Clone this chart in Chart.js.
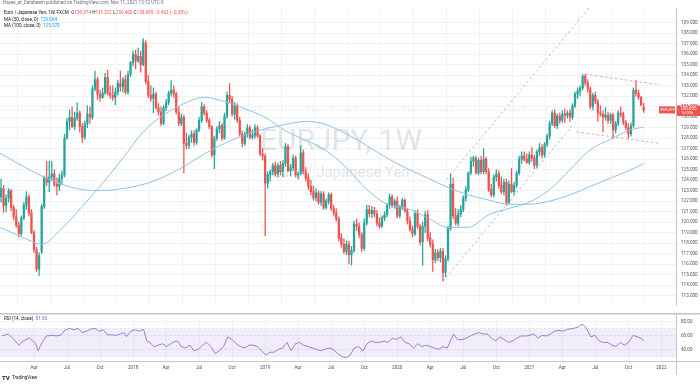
<!DOCTYPE html>
<html>
<head>
<meta charset="utf-8">
<title>EURJPY 1W</title>
<script src="https://cdn.jsdelivr.net/npm/chart.js@4.4.0/dist/chart.umd.min.js"></script>
<style>
  html, body { margin: 0; padding: 0; background: #ffffff; }
  .pane { position: absolute; left: 0; width: 700px; }
  #pricePane { top: 0; height: 313px; }
  #rsiPane { top: 313px; height: 71px; }
</style>
</head>
<body>
<div class="pane" id="pricePane"><canvas id="priceChart"></canvas></div>
<div class="pane" id="rsiPane"><canvas id="rsiChart"></canvas></div>
<script>
// weekly candles, index 0 = week of 2 Jan 2017, last = week of 8 Nov 2021
const open = [
  122.4,123.2,121.6,122.3,123.0,121.4,120.5,119.7,118.9,120.4,
  121.6,122.4,120.9,119.0,117.4,115.5,117.2,121.5,124.2,123.8,
  124.3,124.6,123.6,123.4,124.2,124.5,128.0,129.6,130.0,129.1,
  129.9,130.4,129.1,128.1,129.4,130.3,130.0,132.7,133.6,132.2,
  131.9,132.3,133.8,132.3,132.1,131.9,132.4,133.2,132.9,133.6,
  132.4,134.1,135.2,136.0,135.4,135.8,135.0,137.1,133.4,132.1,
  131.8,132.2,130.9,130.5,129.4,130.9,131.4,132.3,132.6,132.2,
  130.5,129.4,130.0,127.5,127.3,128.1,128.4,127.6,128.8,129.7,
  131.0,130.4,129.7,129.1,126.4,128.0,128.9,129.2,128.0,130.1,
  132.1,131.7,130.3,131.1,129.7,128.4,127.5,128.4,129.0,128.1,
  128.3,129.0,128.2,126.5,126.3,123.7,124.5,124.8,125.4,124.6,
  125.4,124.8,125.6,127.2,124.9,125.2,126.1,124.5,124.6,126.6,
  124.8,124.2,123.4,122.9,122.3,122.8,121.9,122.7,121.4,122.0,
  122.6,121.3,120.9,120.3,118.5,117.9,117.2,117.9,116.9,117.3,
  119.8,119.6,118.8,117.5,119.9,121.2,120.8,121.1,120.8,119.9,
  119.6,120.4,120.7,121.6,122.4,121.6,122.0,120.6,121.4,122.1,
  121.1,120.1,119.3,118.9,120.8,119.6,118.1,119.6,120.7,118.5,
  117.9,116.4,117.1,116.6,117.2,115.2,116.5,119.4,123.6,120.6,
  119.9,120.8,121.2,122.3,123.1,124.7,125.8,126.1,124.7,125.9,
  124.8,126.0,124.8,123.1,122.6,124.3,124.6,123.5,122.9,123.8,
  121.9,123.6,122.9,123.5,124.7,126.0,126.3,126.0,125.7,126.4,
  126.1,125.4,126.7,127.1,126.4,127.4,128.2,129.4,130.4,129.2,
  130.1,129.7,130.3,130.2,130.4,130.0,131.1,132.2,132.5,132.8,
  133.9,133.3,132.7,131.0,132.1,131.5,130.4,130.3,130.0,130.2,
  129.7,130.2,128.8,129.4,130.4,130.3,129.5,129.0,128.4,129.2,
  132.6,132.3,131.9,130.974
];
const high = [
  124.1,123.5,122.6,123.2,123.1,121.6,121.2,120.0,120.6,121.9,
  122.9,122.6,121.2,119.2,117.6,117.1,121.7,124.4,125.8,125.8,
  125.8,125.0,124.2,124.6,124.9,128.4,129.9,130.7,131.0,130.5,
  131.4,130.6,129.4,129.6,131.1,131.0,133.0,134.4,133.8,132.6,
  132.8,134.2,134.5,133.0,133.0,132.8,133.5,134.4,133.8,134.0,
  134.4,135.3,136.3,136.4,136.6,136.3,137.5,137.3,134.0,133.0,
  132.8,132.4,131.3,131.0,131.1,131.7,132.5,133.5,133.0,132.4,
  131.0,130.3,130.2,128.5,128.3,128.7,128.7,128.9,130.0,131.4,
  131.2,130.6,129.9,129.2,128.2,129.1,129.6,129.4,130.4,132.4,
  133.2,132.0,131.4,131.3,130.0,128.7,128.6,129.3,129.2,128.8,
  129.3,129.2,128.4,127.0,126.5,124.8,125.0,125.6,125.7,125.6,
  125.8,125.9,127.5,127.4,125.5,126.4,126.3,124.8,127.3,126.9,
  125.2,124.6,124.0,123.4,123.2,123.0,122.9,122.9,122.2,122.8,
  122.8,121.6,121.3,120.5,118.9,118.4,118.2,118.2,117.7,120.1,
  120.3,119.9,119.0,120.3,121.6,121.6,121.5,121.4,121.1,120.4,
  120.6,121.0,121.8,122.7,122.6,122.2,122.4,121.6,122.3,122.2,
  121.3,120.5,119.6,121.1,121.2,119.8,120.0,121.0,121.1,119.0,
  118.3,117.4,117.4,117.5,117.5,116.8,119.6,124.6,124.2,121.3,
  121.2,121.6,122.5,123.4,124.8,126.2,126.3,126.3,126.1,126.3,
  127.0,126.2,125.1,123.6,124.5,125.0,124.9,124.3,124.1,124.1,
  123.9,125.1,123.8,124.9,126.3,126.7,126.7,126.5,126.7,127.1,
  126.4,126.9,127.5,127.4,127.6,128.4,129.6,130.6,130.7,130.3,
  130.4,130.6,130.8,130.6,130.7,131.3,132.4,132.8,133.0,134.1,
  134.1,133.6,132.9,132.3,132.4,131.7,131.1,130.6,130.9,130.5,
  130.4,130.4,129.6,130.6,131.0,130.5,129.7,129.4,129.5,132.8,
  133.5,132.6,132.0,131.321
];
const low = [
  121.9,120.9,121.0,121.9,121.1,120.2,119.5,118.6,118.7,120.2,
  121.2,120.6,118.9,117.1,115.3,114.9,117.0,121.3,123.5,122.9,
  124.0,123.4,122.6,123.0,123.6,124.3,127.9,128.8,129.0,128.8,
  129.7,128.6,127.6,127.9,129.0,129.4,129.8,132.5,131.7,131.5,
  131.8,132.2,132.1,131.8,131.6,131.2,132.1,132.5,132.4,132.2,
  132.2,133.9,134.9,134.6,135.2,134.3,134.9,133.2,131.9,131.5,
  130.4,130.8,130.2,129.2,129.3,130.6,131.2,132.0,131.9,130.3,
  129.2,129.2,124.7,127.0,127.0,127.6,127.3,127.4,128.6,129.5,
  130.2,129.5,128.9,126.2,125.1,127.8,128.5,127.8,127.9,129.9,
  131.4,130.1,129.8,129.5,128.2,127.2,127.3,128.1,127.9,127.9,
  128.0,128.1,126.3,125.9,118.7,123.2,123.9,124.5,124.4,124.3,
  124.5,124.3,125.3,124.8,124.4,124.9,124.3,124.1,124.5,124.6,
  123.9,123.1,122.6,122.1,122.0,121.7,121.6,121.2,121.2,121.7,
  121.1,120.6,120.1,118.2,117.6,117.0,116.9,116.0,115.9,117.1,
  119.2,118.5,117.2,117.3,119.7,120.5,120.4,120.5,119.6,119.4,
  119.5,120.1,120.5,121.3,121.4,121.3,120.4,120.4,121.2,120.9,
  119.8,119.1,118.6,118.7,119.4,117.8,115.9,119.0,118.2,117.6,
  115.3,116.1,116.3,116.2,114.4,114.8,116.3,119.2,120.3,119.7,
  119.6,120.5,121.0,122.0,122.9,124.5,125.3,124.6,124.5,124.6,
  124.6,124.6,122.9,122.4,122.4,123.9,123.2,122.7,122.6,121.6,
  121.7,122.8,122.6,123.3,124.5,125.6,125.8,125.6,125.5,125.8,
  125.1,125.2,126.3,126.1,126.2,127.2,127.9,129.2,129.0,128.9,
  129.4,129.5,129.5,129.9,129.6,129.8,130.9,131.8,132.0,132.6,
  133.0,132.4,130.8,130.7,131.3,129.6,130.1,128.6,129.7,129.4,
  129.4,128.0,128.5,129.2,130.0,129.3,128.8,128.0,128.2,129.0,
  132.0,131.7,131.1,130.46
];
const close = [
  123.2,121.6,122.3,123.0,121.4,120.5,119.7,118.9,120.4,121.6,
  122.4,120.9,119.0,117.4,115.5,116.8,121.5,124.2,123.8,124.3,
  124.6,123.6,123.4,124.2,124.5,128.0,129.6,130.0,129.1,129.9,
  130.4,129.1,128.1,129.4,130.3,130.0,132.7,133.6,132.2,131.9,
  132.3,133.8,132.3,132.1,131.9,132.4,133.2,132.9,133.6,132.4,
  134.1,135.2,136.0,135.4,135.8,135.0,137.1,133.4,132.1,131.8,
  132.2,130.9,130.5,129.4,130.9,131.4,132.3,132.6,132.2,130.5,
  129.4,130.0,127.5,127.3,128.1,128.4,127.6,128.8,129.7,131.0,
  130.4,129.7,129.1,126.4,128.0,128.9,129.2,128.0,130.1,132.1,
  131.7,130.3,131.1,129.7,128.4,127.5,128.4,129.0,128.1,128.3,
  129.0,128.2,126.5,126.3,123.7,124.5,124.8,125.4,124.6,125.4,
  124.8,125.6,127.2,124.9,125.2,126.1,124.5,124.6,126.6,124.8,
  124.2,123.4,122.9,122.3,122.8,121.9,122.7,121.4,122.0,122.6,
  121.3,120.9,120.3,118.5,117.9,117.2,117.9,116.9,117.3,119.8,
  119.6,118.8,117.5,119.9,121.2,120.8,121.1,120.8,119.9,119.6,
  120.4,120.7,121.6,122.4,121.6,122.0,120.6,121.4,122.1,121.1,
  120.1,119.3,118.9,120.8,119.6,118.1,119.6,120.7,118.5,117.9,
  116.4,117.1,116.6,117.2,115.2,116.5,119.4,123.6,120.6,119.9,
  120.8,121.2,122.3,123.1,124.7,125.8,126.1,124.7,125.9,124.8,
  126.0,124.8,123.1,122.6,124.3,124.6,123.5,122.9,123.8,121.9,
  123.6,122.9,123.5,124.7,126.0,126.3,126.0,125.7,126.4,126.1,
  125.4,126.7,127.1,126.4,127.4,128.2,129.4,130.4,129.2,130.1,
  129.7,130.3,130.2,130.4,130.0,131.1,132.2,132.5,132.8,133.9,
  133.3,132.7,131.0,132.1,131.5,130.4,130.3,130.0,130.2,129.7,
  130.2,128.8,129.4,130.4,130.3,129.5,129.0,128.4,129.2,132.6,
  132.3,131.9,131.158,130.695
];

// moving averages (week index -> value)
const maWeek = [-0.5,8,16,24,32,40,48,56,64,72,80,88,96,104,112,120,128,136,144,152,160,168,176,184,192,200,208,216,224,232,240,248,253];
const ma50 = [119.5,118.6,117.9,119.4,121.5,123.7,126.1,128.6,130.2,131.3,131.9,131.5,130.8,130.0,128.7,127.8,126.8,125.2,123.1,121.7,121.3,120.4,119.5,119.5,120.7,121.3,121.9,123.1,125.0,126.9,127.9,128.8,129.064];
const ma100 = [126.6,125.4,124.4,123.6,123.1,123.0,123.2,123.6,124.3,125.3,126.5,127.5,128.3,128.9,129.3,129.6,129.3,128.4,127.3,126.1,125.1,124.2,123.3,122.6,122.1,121.7,121.7,122.0,122.6,123.4,124.2,125.0,125.570];

// RSI (14)
const rsiWeek = [0.4,2.9,4.6,7.1,8.7,11.2,13.7,14.6,16.2,17.9,
  20.4,22,23.7,25.3,27,28.7,30.3,32,33.7,35.3,
  37,38.6,40.3,42,43.6,45.3,47,48.6,49.4,51.1,
  52.8,54.4,56.1,57.4,58.6,60.2,61.9,63.6,65.2,67.7,
  69.4,71,72.7,74.4,76,77.7,79.3,81,82.7,84.3,
  86,87.6,89.3,91,92.6,94.3,96,97.6,99.3,100.9,
  102.6,104.3,105.9,107.6,109.2,110.9,112.6,114.2,115.9,117.5,
  119.2,120.9,122.5,124.2,125.9,127.5,129.2,130.8,132.5,134.2,
  135.8,137.5,139.1,140.8,142.5,144.1,145.8,147.4,149.1,150.8,
  152.4,154.1,155.7,157.4,159.1,160.7,162.4,164.1,165.7,167.4,
  169,170.7,172.4,174,175.7,178.2,179.8,181.5,183.2,184.8,
  186.5,188.1,189.8,191.5,193.1,194.8,196.4,198.1,199.8,201.4,
  203.1,204.8,207.2,209.7,211.4,213,214.7,216.4,218,219.7,
  221.4,223,225.5,227.2,228.8,230.2,232.2,233.8,235.5,237.1,
  238.8,240.5,242.1,243.8,245.4,247.1,248.8,250.4,252.1,253];
const rsiValue = [59.2,62,56,46,52,56,48,38,50,59.2,
  60,59.2,60.8,68,70,68,70,64,66,68.8,
  70,66,68,60.8,60.8,60,62,64,58,66,
  68,66,68.8,52,50,44,46,48,44,50,
  52,44,42,46,38,40,46,50,44,34,
  38,44,58,54,48,44,42,46,46,44,
  38,32,36,36,40,42,50,38,48,50,
  46,44,42,40,38,40,42,40,34,30,
  28,32,42,44,38,48,52,50,50,52,
  50,56,54,58,50,48,42,48,44,46,
  44,42,40,44,42,62,54,54,56,59.2,
  62,64,62,62,56,52,58,54,50,52,
  56,59.2,59.2,62,56,60,59.2,62,66,67.2,
  66,68.8,70,72,76,72,58,60,52,50,
  50,46,44,50,46,50,60,58,56,51.93];
const rsiBands = [70, 30];
const rsiTicks = [40, 60, 80];

// drawn trend lines (week index, price)
const channelUpperX = [175.5, 240];   const channelUpperY = [124.1, 142.9];
const channelLowerX = [174, 226];     const channelLowerY = [114.35, 129.5];
const flagUpperX = [230, 259.5];      const flagUpperY = [134.1, 133.1];
const flagLowerX = [226.6, 259.5];    const flagLowerY = [128.6, 127.5];

// time axis
const tickWeek = [13,26,39,52,65,78,91,104,117,130,143,156,169,182,195,208,221,234,247,260];
const tickText = ['Apr','Jul','Oct','2018','Apr','Jul','Oct','2019','Apr','Jul','Oct','2020','Apr','Jul','Oct','2021','Apr','Jul','Oct','2022'];

const UP = '#26a69a';
const DOWN = '#ef5350';
const MA_COLOR = '#8fc1e8';
const GRID = '#f0f2f6';
const TEXT = '#50535e';
const SEP = '#c5c7cd';
const X_MIN = -0.39, X_MAX = 265.75;
const FONT = 'Roboto, "Liberation Sans", sans-serif';

Chart.defaults.font.family = FONT;
Chart.defaults.animation = false;

const last = close.length - 1;
const idx = close.map((_, i) => i);
const pts = (xs, ys) => xs.map((x, i) => ({ x: x, y: ys[i] }));
const candleColor = c => close[c.dataIndex] >= open[c.dataIndex] ? UP : DOWN;

function runs(ctx, x, y, parts) {
  parts.forEach(([t, c]) => { ctx.fillStyle = c; ctx.fillText(t, x, y); x += ctx.measureText(t).width; });
}

const priceDecor = {
  id: 'priceDecor',
  beforeDatasetsDraw(chart) {
    const { ctx, chartArea: a } = chart;
    const cx = (a.left + a.right) / 2, cy = (a.top + a.bottom) / 2;
    ctx.save();
    ctx.fillStyle = 'rgba(120,123,134,0.2)';
    ctx.textAlign = 'center';
    ctx.textBaseline = 'middle';
    ctx.font = '30px ' + FONT;
    ctx.fillText('EURJPY, 1W', cx + 3, cy - 14);
    ctx.font = '15px ' + FONT;
    ctx.fillText('Euro / Japanese Yen', cx + 3, cy + 17);
    ctx.restore();
  },
  afterDraw(chart) {
    const { ctx } = chart;
    const y = chart.scales.y;
    ctx.save();
    ctx.textBaseline = 'middle';
    ctx.textAlign = 'left';
    ctx.font = '4.6px ' + FONT;
    runs(ctx, 3, 3, [['Hayes_at_Databeam published on TradingView.com, Nov 11, 2021 13:12 UTC-5', '#6a6d78']]);
    runs(ctx, 4, 13, [
      ['Euro / Japanese Yen, 1W, FXCM  ', '#131722'],
      ['O', '#131722'], [open[last].toFixed(3) + ' ', DOWN],
      ['H', '#131722'], [high[last].toFixed(3) + ' ', DOWN],
      ['L', '#131722'], [low[last].toFixed(3) + ' ', DOWN],
      ['C', '#131722'], [close[last].toFixed(3) + ' \u22120.463 (\u22120.35%)', DOWN]
    ]);
    runs(ctx, 4, 19.5, [['MA (50, close, 0)  ', '#131722'], [ma50[ma50.length - 1].toFixed(3), '#2196f3']]);
    runs(ctx, 4, 26, [['MA (100, close, 0)  ', '#131722'], [ma100[ma100.length - 1].toFixed(3), '#2196f3']]);

    // last price tags
    const py = y.getPixelForValue(close[last]);
    ctx.fillStyle = DOWN;
    ctx.fillRect(677, py - 4.5, 23, 10.5);
    ctx.fillRect(659, py - 3.5, 16, 7);
    ctx.fillStyle = '#ffffff';
    ctx.font = '4.6px ' + FONT;
    ctx.fillText(close[last].toFixed(3), 680, py - 1);
    ctx.font = '4px ' + FONT;
    ctx.fillText('1d 03h', 681, py + 3.5);
    ctx.fillText('EURJPY', 660.5, py);
    ctx.restore();
  }
};

new Chart(document.getElementById('priceChart'), {
  type: 'bar',
  data: {
    datasets: [
      { type: 'line', data: pts([X_MIN, X_MAX], [close[last], close[last]]), borderColor: 'rgba(239,83,80,0.45)',
        borderWidth: 0.8, borderDash: [1, 2], pointRadius: 0, order: 6 },
      { data: idx.map(i => ({ x: i, y: [low[i], high[i]] })), backgroundColor: candleColor,
        barThickness: 0.6, grouped: false, order: 5 },
      { data: idx.map(i => ({ x: i, y: [open[i], close[i]] })), backgroundColor: candleColor,
        barThickness: 1.6, minBarLength: 0.6, grouped: false, order: 4 },
      { type: 'line', data: pts(maWeek, ma50), borderColor: MA_COLOR, borderWidth: 1,
        pointRadius: 0, cubicInterpolationMode: 'monotone', order: 3 },
      { type: 'line', data: pts(maWeek, ma100), borderColor: MA_COLOR, borderWidth: 1,
        pointRadius: 0, cubicInterpolationMode: 'monotone', order: 3 },
      { type: 'line', data: pts(channelUpperX, channelUpperY), borderColor: 'rgba(120,123,134,0.55)',
        borderWidth: 0.9, borderDash: [2.5, 2.5], pointRadius: 0, order: 1 },
      { type: 'line', data: pts(channelLowerX, channelLowerY), borderColor: 'rgba(120,123,134,0.55)',
        borderWidth: 0.9, borderDash: [2.5, 2.5], pointRadius: 0, order: 1 },
      { type: 'line', data: pts(flagUpperX, flagUpperY), borderColor: 'rgba(239,83,80,0.6)',
        borderWidth: 0.9, borderDash: [2.5, 2.5], pointRadius: 0, order: 1 },
      { type: 'line', data: pts(flagLowerX, flagLowerY), borderColor: 'rgba(239,83,80,0.6)',
        borderWidth: 0.9, borderDash: [2.5, 2.5], pointRadius: 0, order: 1 }
    ]
  },
  options: {
    responsive: true,
    maintainAspectRatio: false,
    layout: { padding: { top: 8, bottom: 0, left: 0, right: 0 } },
    plugins: { legend: { display: false }, tooltip: { enabled: false } },
    scales: {
      x: {
        type: 'linear', min: X_MIN, max: X_MAX, offset: false,
        afterBuildTicks: ax => { ax.ticks = tickWeek.map(v => ({ value: v })); },
        ticks: { display: false },
        grid: { color: GRID, drawTicks: false },
        border: { display: false },
        afterFit: ax => { ax.height = 0; }
      },
      y: {
        position: 'right',
        min: 112.071, max: 140.416,
        afterBuildTicks: ax => {
          const t = [];
          for (let v = 113; v <= 139; v++) t.push({ value: v });
          ax.ticks = t;
        },
        ticks: { autoSkip: false, padding: 5, color: TEXT, font: { size: 4.6 }, callback: v => v.toFixed(3) },
        grid: { color: GRID, drawTicks: false },
        border: { color: SEP, width: 1 },
        afterFit: ax => { ax.width = 24; }
      }
    }
  },
  plugins: [priceDecor]
});

const rsiDecor = {
  id: 'rsiDecor',
  afterDraw(chart) {
    const { ctx, chartArea: a } = chart;
    ctx.save();
    ctx.fillStyle = SEP;
    ctx.fillRect(0, 0, 700, 1.6);
    ctx.fillRect(0, a.bottom, 700, 1);
    ctx.fillRect(a.right, 0, 1, 62);
    ctx.textBaseline = 'middle';
    ctx.textAlign = 'left';
    ctx.font = '4.6px ' + FONT;
    runs(ctx, 4, 5.5, [['RSI (14, close)  ', '#131722'], [rsiValue[rsiValue.length - 1].toFixed(2), '#7e57c2']]);
    ctx.font = 'bold 6px ' + FONT;
    ctx.fillStyle = '#131722';
    ctx.fillText('TV', 2, 65);
    ctx.font = '4.6px ' + FONT;
    ctx.fillText('TradingView', 12, 65);
    ctx.restore();
  }
};

new Chart(document.getElementById('rsiChart'), {
  type: 'line',
  data: {
    datasets: [
      { data: pts([X_MIN, X_MAX], [rsiBands[0], rsiBands[0]]), borderColor: 'rgba(120,123,134,0.25)',
        borderWidth: 0.6, borderDash: [2, 2], pointRadius: 0, fill: false },
      { data: pts([X_MIN, X_MAX], [rsiBands[1], rsiBands[1]]), borderColor: 'rgba(120,123,134,0.25)',
        borderWidth: 0.6, borderDash: [2, 2], pointRadius: 0, fill: '-1', backgroundColor: 'rgba(126,87,194,0.1)' },
      { data: pts(rsiWeek, rsiValue), borderColor: '#9575cd', borderWidth: 0.9, pointRadius: 0, fill: false }
    ]
  },
  options: {
    responsive: true,
    maintainAspectRatio: false,
    layout: { padding: { top: 2, bottom: 0, left: 0, right: 0 } },
    plugins: { legend: { display: false }, tooltip: { enabled: false } },
    scales: {
      x: {
        type: 'linear', min: X_MIN, max: X_MAX, offset: false,
        afterBuildTicks: ax => { ax.ticks = tickWeek.map(v => ({ value: v })); },
        ticks: { autoSkip: false, maxRotation: 0, padding: 4, color: TEXT, font: { size: 4.6 },
                 callback: (v, i) => tickText[i] },
        grid: { color: GRID, drawTicks: false },
        border: { display: false },
        afterFit: ax => { ax.height = 23; }
      },
      y: {
        position: 'right',
        min: 23.4, max: 80.9,
        afterBuildTicks: ax => { ax.ticks = rsiTicks.map(v => ({ value: v })); },
        ticks: { autoSkip: false, padding: 5, color: TEXT, font: { size: 4.6 }, callback: v => v.toFixed(2) },
        grid: { color: GRID, drawTicks: false },
        border: { display: false },
        afterFit: ax => { ax.width = 24; }
      }
    }
  },
  plugins: [rsiDecor]
});
</script>
</body>
</html>
